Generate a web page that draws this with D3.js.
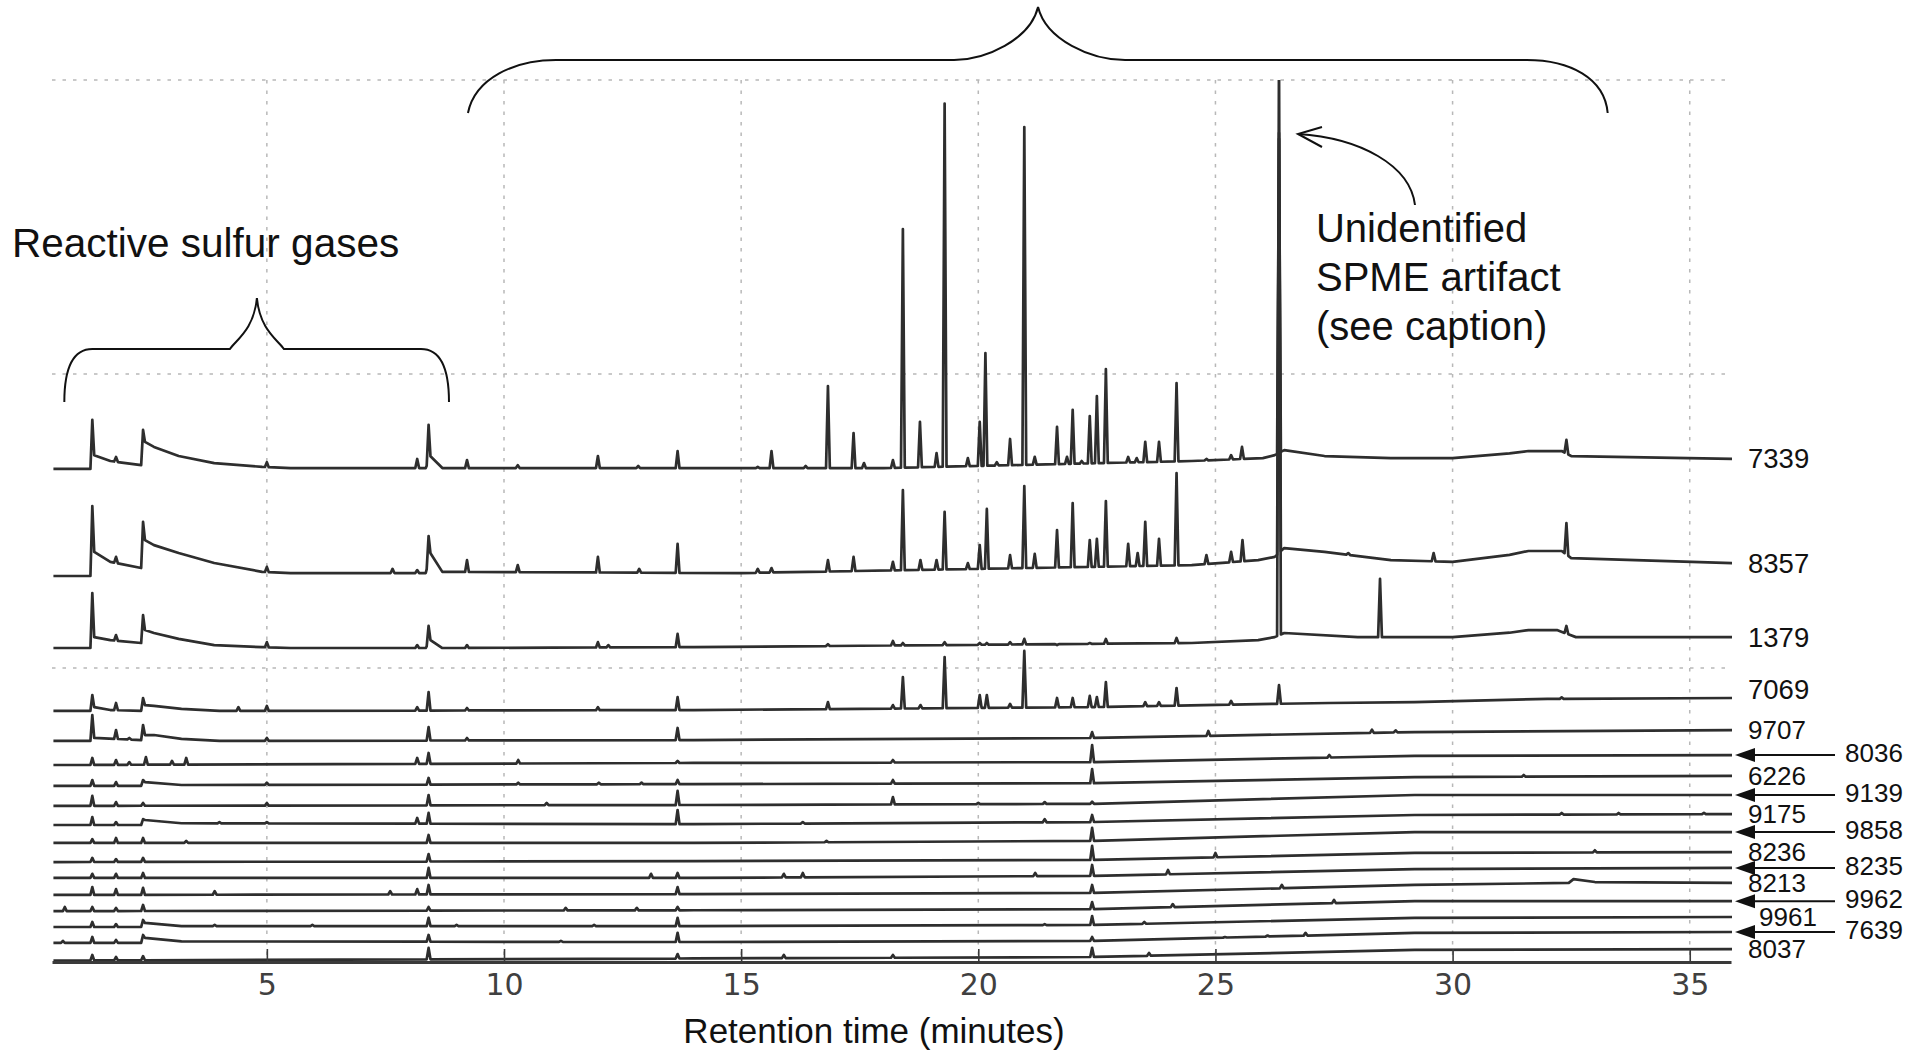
<!DOCTYPE html>
<html>
<head>
<meta charset="utf-8">
<script src="https://cdn.jsdelivr.net/npm/d3@7"></script>
<style>
  body { margin: 0; background: #fff; }
  svg { display: block; }
</style>
</head>
<body>
<script>
// sample ids, top trace first
const sampleIds = ["7339","8357","1379","7069","9707","8036","6226","9139","9175","9858","8236","8235","8213","9962","9961","7639","8037"];
// these are labelled with an arrow in the right hand column
const arrowIds = ["8036","9139","9858","8235","9962","7639"];

const xTicks = [5, 10, 15, 20, 25, 30, 35];
const yGrid = [0, 10, 20, 30];

// baseline of each trace: [minutes, signal]
const baselineKnots = [
  [[0.5,16.77],[1.28,16.77],[1.36,17.24],[1.7,17.04],[2.35,16.9],[2.43,17.69],[2.62,17.52],[3.14,17.21],[3.89,16.97],[4.9,16.84],[5.5,16.8],[8.35,16.8],[8.45,17.2],[8.7,16.8],[18,16.8],[24.5,17.04],[26.0,17.14],[26.25,17.24],[26.45,17.41],[27.3,17.21],[28.7,17.14],[30,17.14],[31.2,17.3],[31.6,17.38],[32.3,17.38],[32.5,17.21],[35.9,17.11]],
  [[0.5,13.13],[1.28,13.13],[1.36,13.95],[1.7,13.61],[2.35,13.4],[2.43,14.35],[2.62,14.18],[3.14,13.91],[3.89,13.57],[4.9,13.27],[5.5,13.23],[8.35,13.23],[8.45,13.9],[8.7,13.27],[15,13.23],[24.5,13.5],[25.9,13.67],[26.25,13.78],[26.45,14.08],[27.3,13.95],[28.7,13.67],[30,13.61],[31.2,13.85],[31.6,13.98],[32.3,13.98],[32.5,13.74],[35.9,13.57]],
  [[0.5,10.68],[1.28,10.68],[1.36,11.05],[1.7,10.95],[2.35,10.85],[2.43,11.29],[2.62,11.19],[3.14,10.99],[3.89,10.78],[4.9,10.71],[5.5,10.68],[8.35,10.68],[8.45,10.95],[8.7,10.68],[14,10.71],[24.5,10.85],[25.9,10.95],[26.25,11.05],[26.45,11.19],[28,11.05],[30,11.05],[31.2,11.2],[31.6,11.29],[32.2,11.29],[32.6,11.05],[35.9,11.05]],
  [[0.5,8.54],[1.28,8.54],[1.36,8.67],[1.7,8.57],[2.35,8.54],[2.43,8.74],[2.62,8.71],[3.2,8.61],[4.0,8.54],[14,8.57],[22.4,8.67],[26.2,8.78],[27.4,8.81],[29.2,8.84],[32,8.95],[35.9,8.98]],
  [[0.5,7.52],[1.28,7.52],[1.36,7.62],[2.35,7.55],[2.43,7.72],[2.62,7.72],[3.2,7.59],[4,7.52],[14,7.55],[22.4,7.62],[29.2,7.82],[35.9,7.89]],
  [[0.5,6.7],[14,6.77],[22.4,6.8],[29.2,7.01],[35.9,7.04]],
  [[0.5,5.99],[2.35,5.99],[2.43,6.12],[3.2,6.02],[14,6.05],[22.4,6.08],[29.2,6.29],[35.9,6.33]],
  [[0.5,5.31],[14,5.34],[22.4,5.38],[29.2,5.68],[35.9,5.68]],
  [[0.5,4.66],[2.35,4.66],[2.43,4.83],[3.2,4.72],[14,4.69],[22.4,4.76],[29.2,5.0],[35.9,5.03]],
  [[0.5,4.05],[14,4.05],[22.4,4.12],[29.2,4.42],[35.9,4.42]],
  [[0.5,3.4],[14,3.43],[22.4,3.47],[29.2,3.71],[35.9,3.74]],
  [[0.5,2.86],[14,2.86],[22.4,2.93],[29.2,3.16],[35.9,3.2]],
  [[0.5,2.28],[14,2.31],[22.4,2.35],[29.2,2.62],[32.45,2.69],[32.55,2.82],[33,2.72],[35.9,2.69]],
  [[0.5,1.73],[14,1.76],[22.4,1.8],[29.2,2.07],[35.9,2.07]],
  [[0.5,1.19],[2.35,1.19],[2.43,1.33],[3.2,1.22],[14,1.22],[22.4,1.26],[29.2,1.5],[35.9,1.53]],
  [[0.5,0.65],[2.35,0.65],[2.43,0.82],[3.2,0.7],[14,0.68],[22.4,0.72],[29.2,0.99],[35.9,1.02]],
  [[0.5,0.05],[14,0.12],[22.4,0.17],[29.2,0.41],[35.9,0.44]]
];

// peak apex of each trace: [minutes, signal]
const peakTops = [
  [[1.32,18.44],[1.82,17.18],[2.39,18.1],[5.0,17.0],[8.17,17.11],[8.41,18.27],[9.22,17.07],[10.29,16.9],[11.98,17.21],[12.83,16.87],[13.66,17.38],[15.35,16.84],[15.64,17.38],[16.36,16.87],[16.83,19.59],[17.37,17.99],[17.59,16.97],[18.2,17.07],[18.41,24.93],[18.77,18.37],[19.12,17.31],[19.29,29.2],[19.78,17.14],[20.03,18.37],[20.15,20.71],[20.39,17.0],[20.67,17.79],[20.97,28.4],[21.19,17.18],[21.66,18.2],[21.87,17.18],[21.99,18.78],[22.18,17.04],[22.35,18.57],[22.5,19.25],[22.69,20.17],[23.16,17.18],[23.34,17.14],[23.52,17.69],[23.81,17.69],[24.18,19.69],[24.81,17.11],[25.33,17.24],[25.56,17.52],[26.34,28.0],[32.4,17.76]],
  [[1.32,15.51],[1.82,13.78],[2.39,14.97],[5.0,13.44],[7.65,13.37],[8.17,13.33],[8.41,14.49],[9.22,13.67],[10.29,13.5],[11.98,13.78],[12.85,13.37],[13.66,14.22],[15.35,13.37],[15.64,13.4],[16.83,13.67],[17.37,13.78],[18.2,13.61],[18.41,16.05],[18.78,13.67],[19.12,13.67],[19.29,15.31],[19.78,13.57],[20.03,14.18],[20.18,15.41],[20.67,13.84],[20.97,16.19],[21.19,13.88],[21.66,14.69],[21.99,15.61],[22.35,14.35],[22.5,14.39],[22.69,15.68],[23.16,14.22],[23.36,13.91],[23.52,14.97],[23.81,14.39],[24.18,16.63],[24.81,13.84],[25.33,13.95],[25.57,14.35],[26.34,28.2],[27.8,13.91],[29.6,13.91],[32.4,14.93]],
  [[1.32,12.55],[1.82,11.12],[2.39,11.8],[5.0,10.88],[8.17,10.78],[8.41,11.43],[9.22,10.78],[11.98,10.88],[12.2,10.78],[13.66,11.16],[16.83,10.81],[18.2,10.92],[18.41,10.85],[19.29,10.88],[20.03,10.85],[20.18,10.85],[20.67,10.88],[20.97,10.99],[21.66,10.78],[22.35,10.85],[22.69,10.99],[24.18,11.02],[26.34,31],[28.47,13.03],[32.4,11.43]],
  [[1.32,9.08],[1.82,8.81],[2.39,8.98],[4.4,8.67],[5.0,8.71],[8.17,8.67],[8.41,9.18],[9.22,8.64],[11.98,8.67],[13.66,9.01],[16.83,8.84],[18.2,8.74],[18.41,9.69],[18.78,8.74],[19.29,10.37],[20.03,9.08],[20.18,9.08],[20.67,8.78],[20.97,10.58],[21.66,8.98],[21.99,8.98],[22.35,9.05],[22.5,9.01],[22.69,9.52],[23.52,8.84],[23.81,8.84],[24.18,9.32],[25.33,8.88],[26.34,9.42],[32.3,9.0]],
  [[1.32,8.4],[1.82,7.89],[2.1,7.62],[2.39,8.06],[5.0,7.62],[8.41,7.99],[9.22,7.62],[13.66,7.96],[22.4,7.82],[24.85,7.86],[28.3,7.9],[28.8,7.88]],
  [[1.32,6.94],[1.82,6.87],[2.1,6.8],[2.45,6.97],[3.0,6.84],[3.3,6.94],[8.17,6.94],[8.41,7.11],[10.3,6.87],[13.66,6.84],[18.2,6.87],[22.4,7.38],[27.4,7.04]],
  [[1.32,6.19],[1.82,6.12],[2.39,6.19],[5.0,6.1],[8.41,6.26],[10.3,6.1],[12.0,6.1],[12.9,6.1],[13.66,6.19],[18.2,6.19],[22.4,6.56],[31.5,6.36]],
  [[1.32,5.65],[1.82,5.44],[2.39,5.41],[5.0,5.41],[8.41,5.68],[10.9,5.41],[13.66,5.82],[18.2,5.61],[20.0,5.41],[21.4,5.44],[22.4,5.45]],
  [[1.32,4.93],[1.82,4.76],[2.39,4.86],[4.0,4.76],[5.0,4.76],[8.17,4.9],[8.41,5.07],[13.66,5.17],[16.3,4.76],[21.4,4.86],[22.4,5.0],[32.3,5.07],[33.5,5.07],[35.3,5.07]],
  [[1.32,4.18],[1.82,4.22],[2.39,4.22],[3.3,4.12],[8.41,4.32],[16.8,4.12],[22.4,4.56]],
  [[1.32,3.54],[1.82,3.5],[2.39,3.54],[8.41,3.67],[22.4,3.95],[25.0,3.71],[33.0,3.8]],
  [[1.32,3.0],[1.82,3.0],[2.39,3.03],[8.41,3.2],[13.1,3.0],[13.66,3.03],[15.9,3.0],[16.3,3.03],[21.2,3.03],[22.4,3.3],[24.0,3.13]],
  [[1.32,2.55],[1.82,2.48],[2.39,2.52],[3.9,2.41],[7.6,2.41],[8.17,2.48],[8.41,2.62],[13.66,2.55],[22.4,2.62],[26.4,2.62]],
  [[0.74,1.87],[1.32,1.87],[1.82,1.84],[2.39,1.94],[8.41,1.87],[11.3,1.84],[12.8,1.84],[13.66,1.87],[22.4,2.04],[24.1,1.97],[27.5,2.11]],
  [[1.32,1.36],[1.82,1.29],[2.39,1.43],[3.9,1.26],[5.96,1.26],[8.41,1.5],[9.0,1.26],[11.9,1.26],[13.66,1.5],[21.4,1.29],[22.4,1.56],[23.5,1.36]],
  [[0.7,0.72],[1.32,0.85],[1.82,0.75],[2.39,0.92],[8.41,0.92],[11.2,0.72],[13.66,0.99],[22.4,0.85],[25.2,0.85],[26.1,0.9],[26.9,0.99]],
  [[1.32,0.24],[1.82,0.17],[2.39,0.2],[8.41,0.48],[13.66,0.27],[15.9,0.24],[18.2,0.24],[22.4,0.48],[23.6,0.31]]
];

const width = 1909, height = 1051;
const PEAK_W = 0.04; // half width of a peak in minutes

const x = d3.scaleLinear().domain([0.47, 35.87]).range([52, 1731]);
const y = d3.scaleLinear().domain([0, 30]).range([962, 80]);

const svg = d3.select("body").append("svg")
  .attr("width", width).attr("height", height)
  .style("background", "#fff");

svg.append("defs").append("clipPath").attr("id", "plotClip")
  .append("rect")
  .attr("x", x.range()[0]).attr("y", y(30))
  .attr("width", x.range()[1] - x.range()[0] + 1)
  .attr("height", y(0) - y(30) + 4);

// dotted grid
const grid = svg.append("g")
  .attr("stroke", "#b8b8b8").attr("stroke-width", 1.5).attr("stroke-dasharray", "3.5,7");
grid.selectAll("line.v").data(xTicks).join("line")
  .attr("class", "v")
  .attr("x1", d => x(d)).attr("x2", d => x(d))
  .attr("y1", y(30)).attr("y2", y(0));
grid.selectAll("line.h").data(yGrid.filter(d => d > 0)).join("line")
  .attr("class", "h")
  .attr("x1", x.range()[0]).attr("x2", x.range()[1])
  .attr("y1", d => y(d)).attr("y2", d => y(d));

// build the points of one chromatogram from its baseline and peak list
function tracePoints(knots, peaks) {
  const base = d3.scaleLinear()
    .domain(knots.map(d => d[0]))
    .range(knots.map(d => d[1]))
    .clamp(true);
  const pts = knots.filter(k => !peaks.some(p => Math.abs(k[0] - p[0]) < PEAK_W - 1e-9));
  peaks.forEach(p => {
    pts.push([p[0] - PEAK_W, base(p[0] - PEAK_W)]);
    pts.push([p[0], p[1]]);
    pts.push([p[0] + PEAK_W, base(p[0] + PEAK_W)]);
  });
  pts.sort((a, b) => a[0] - b[0]);
  return pts;
}

const line = d3.line().x(d => x(d[0])).y(d => y(d[1]));

svg.append("g").attr("clip-path", "url(#plotClip)")
  .selectAll("path").data(sampleIds).join("path")
  .attr("d", (id, i) => line(tracePoints(baselineKnots[i], peakTops[i])))
  .attr("fill", "none")
  .attr("stroke", "#2e2e2e")
  .attr("stroke-width", 2.7)
  .attr("stroke-linejoin", "round");

// x axis
const xAxis = d3.axisBottom(x)
  .tickValues(xTicks)
  .tickSize(-13)
  .tickSizeOuter(0)
  .tickPadding(12);

const axisG = svg.append("g")
  .attr("transform", `translate(0,${y(0)})`)
  .call(xAxis)
  .attr("font-family", "'DejaVu Sans', sans-serif")
  .attr("font-size", 30);
axisG.select(".domain").attr("stroke", "#3a3a3a").attr("stroke-width", 2.8);
axisG.selectAll(".tick line").attr("stroke", "#3a3a3a").attr("stroke-width", 1.6);
axisG.selectAll(".tick text").attr("fill", "#404040");

svg.append("text")
  .attr("x", 874)
  .attr("y", 1043)
  .attr("text-anchor", "middle")
  .attr("font-family", "'Liberation Sans', Arial, sans-serif")
  .attr("font-size", 35)
  .attr("fill", "#111")
  .text("Retention time (minutes)");

// sample labels at the right end of each trace
const xEnd = x.range()[1];
const labelNudge = { "7069": [0, -8], "9961": [11, 0] };
const labels = svg.append("g")
  .attr("font-family", "'Liberation Sans', Arial, sans-serif")
  .attr("fill", "#111");

sampleIds.forEach((id, i) => {
  const knots = baselineKnots[i];
  const yEnd = y(knots[knots.length - 1][1]);
  const nudge = labelNudge[id] || [0, 0];
  if (arrowIds.includes(id)) {
    labels.append("line")
      .attr("x1", xEnd + 104).attr("x2", xEnd + 20)
      .attr("y1", yEnd).attr("y2", yEnd)
      .attr("stroke", "#111").attr("stroke-width", 2);
    labels.append("path")
      .attr("d", `M${xEnd + 4},${yEnd} L${xEnd + 24},${yEnd - 7} L${xEnd + 24},${yEnd + 7} Z`)
      .attr("fill", "#111");
    labels.append("text")
      .attr("x", xEnd + 114).attr("y", yEnd - 2)
      .attr("dominant-baseline", "central")
      .attr("font-size", 26)
      .text(id);
  } else {
    labels.append("text")
      .attr("x", xEnd + 17 + nudge[0]).attr("y", yEnd + nudge[1])
      .attr("dominant-baseline", "central")
      .attr("font-size", i < 4 ? 27.5 : 26)
      .text(id);
  }
});

// annotations
const ann = svg.append("g")
  .attr("fill", "none").attr("stroke", "#111").attr("stroke-width", 2);

// small brace over the sulfur gas peaks
{
  const L = x(0.73), R = x(8.84), T = x(4.79);
  const yE = 402, yB = 349, yT = 298;
  ann.append("path").attr("d",
    `M${L},${yE} C${L},${yE - 32} ${L + 8},${yB} ${L + 28},${yB}` +
    ` L${T - 27},${yB} C${T - 21},${yB - 9} ${T - 3},${yB - 19} ${T},${yT}` +
    ` C${T + 3},${yB - 19} ${T + 21},${yB - 9} ${T + 27},${yB}` +
    ` L${R - 28},${yB} C${R - 8},${yB} ${R},${yE - 32} ${R},${yE}`);
}
// large brace over the mid-run peaks
{
  const L = x(9.24), R = x(33.27), T = x(21.26);
  const yE = 113, yB = 60, yT = 7;
  ann.append("path").attr("d",
    `M${L},${yE} C${L + 7},${yB + 18} ${L + 47},${yB} ${L + 88},${yB}` +
    ` L${T - 84},${yB} C${T - 53},${yB} ${T - 8},${yB - 20} ${T},${yT}` +
    ` C${T + 8},${yB - 20} ${T + 53},${yB} ${T + 87},${yB}` +
    ` L${R - 81},${yB} C${R - 38},${yB} ${R - 3},${yB + 18} ${R},${yE}`);
}
// curved arrow to the artifact peak
{
  const P = x(26.34);
  ann.append("path").attr("d",
    `M${P + 136},205 C${P + 131},165 ${P + 81},138 ${P + 19},134`);
  ann.append("path").attr("d",
    `M${P + 43},127 L${P + 19},134 L${P + 43},147`);
}

const annText = svg.append("g")
  .attr("font-family", "'Liberation Sans', Arial, sans-serif")
  .attr("font-size", 40)
  .attr("fill", "#111");
annText.append("text").attr("x", 12).attr("y", 257).attr("font-size", 40.5).text("Reactive sulfur gases");
["Unidentified", "SPME artifact", "(see caption)"].forEach((s, i) => {
  annText.append("text").attr("x", x(26.34) + 37).attr("y", 242 + i * 49).text(s);
});
</script>
</body>
</html>
